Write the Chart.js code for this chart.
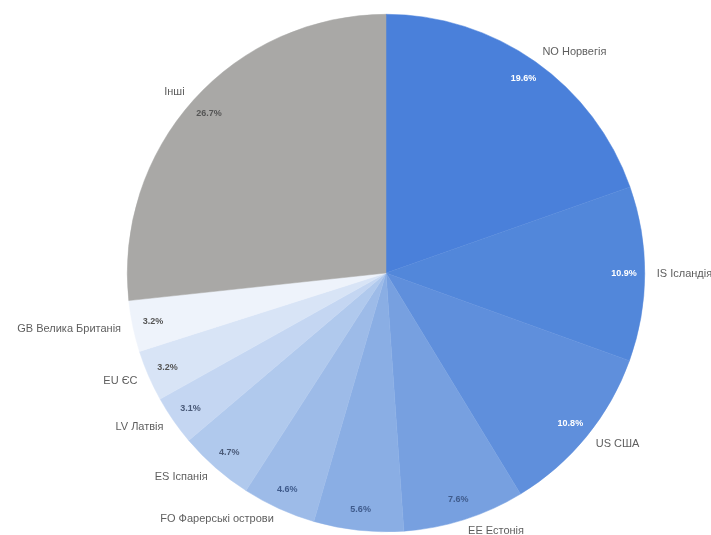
<!DOCTYPE html>
<html>
<head>
<meta charset="utf-8">
<script src="https://cdn.jsdelivr.net/npm/chart.js@4.4.1/dist/chart.umd.min.js"></script>
<style>
  html, body { margin: 0; padding: 0; background: #ffffff; }
  #wrap { width: 711px; height: 535px; position: relative; }
</style>
</head>
<body>
<div id="wrap"><canvas id="c" width="711" height="535"></canvas></div>
<script>
// Categories (country code + Ukrainian name); one slice has no visible name in the reference
const categories = [
  'NO Норвегія', 'IS Ісландія', 'US США', 'EE Естонія', '',
  'FO Фарерські острови', 'ES Іспанія', 'LV Латвія', 'EU ЄС',
  'GB Велика Британія', 'Інші'
];
// Shares, %
const shares = [19.6, 10.9, 10.8, 7.6, 5.6, 4.6, 4.7, 3.1, 3.2, 3.2, 26.7];

const sliceColors = [
  '#4a80da', '#5287da', '#5f8fdc', '#77a0e0', '#8aaee4',
  '#9dbbe8', '#b0c9ed', '#c4d6f2', '#d8e4f6', '#eef3fb', '#a9a8a6'
];
const percentColors = [
  '#ffffff', '#ffffff', '#ffffff', '#3f5b8c', '#3f5b8c',
  '#3f5b8c', '#4a5a78', '#4a5a78', '#555555', '#555555', '#555555'
];

const labelPlugin = {
  id: 'sliceLabels',
  afterDatasetsDraw(chart) {
    const ctx = chart.ctx;
    const meta = chart.getDatasetMeta(0);
    const data = chart.data.datasets[0].data;
    const total = data.reduce((a, b) => a + b, 0);
    ctx.save();
    meta.data.forEach((arc, i) => {
      const p = arc.getProps(['x', 'y', 'startAngle', 'endAngle', 'outerRadius'], true);
      const mid = (p.startAngle + p.endAngle) / 2;
      const cos = Math.cos(mid), sin = Math.sin(mid);
      // percent inside
      const rIn = p.outerRadius * 0.92;
      ctx.font = 'bold 9px "Liberation Sans", Arial, sans-serif';
      ctx.fillStyle = percentColors[i];
      ctx.textAlign = 'center';
      ctx.textBaseline = 'middle';
      const pct = (data[i] / total * 100).toFixed(1) + '%';
      ctx.fillText(pct, p.x + cos * rIn, p.y + sin * rIn);
      // category name outside
      const name = chart.data.labels[i];
      if (name) {
        const rOut = p.outerRadius + 12;
        const lx = p.x + cos * rOut, ly = p.y + sin * rOut;
        ctx.font = '11px "Liberation Sans", Arial, sans-serif';
        ctx.fillStyle = '#5e5e5e';
        ctx.textAlign = cos >= 0 ? 'left' : 'right';
        ctx.fillText(name, lx, ly);
      }
    });
    ctx.restore();
  }
};

new Chart(document.getElementById('c'), {
  type: 'pie',
  data: {
    labels: categories,
    datasets: [{
      data: shares,
      backgroundColor: sliceColors,
      borderColor: sliceColors,
      borderWidth: 0.5
    }]
  },
  options: {
    responsive: false,
    animation: false,
    layout: { padding: { left: 127, right: 66, top: 14, bottom: 3 } },
    plugins: {
      legend: { display: false },
      tooltip: { enabled: false },
      title: { display: false }
    }
  },
  plugins: [labelPlugin]
});
</script>
</body>
</html>
